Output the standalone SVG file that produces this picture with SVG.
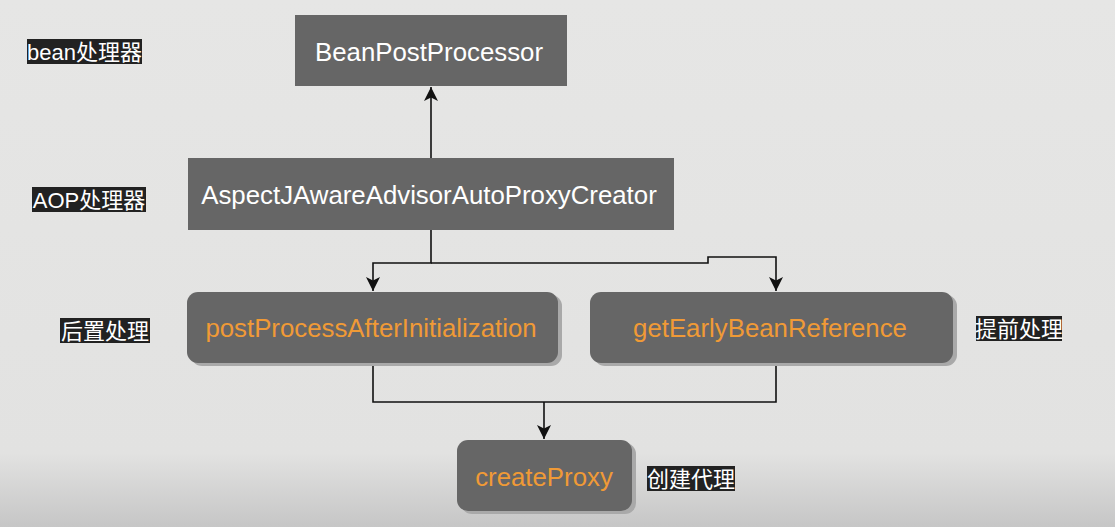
<svg xmlns="http://www.w3.org/2000/svg" width="1115" height="527" viewBox="0 0 1115 527">
<defs>
<linearGradient id="bg" x1="0" y1="0" x2="0" y2="1">
<stop offset="0" stop-color="#e6e6e5"/>
<stop offset="0.86" stop-color="#e2e2e1"/>
<stop offset="1" stop-color="#c6c6c6"/>
</linearGradient>
<marker id="arr" viewBox="0 0 12 12" refX="12" refY="6" markerWidth="14" markerHeight="14" orient="auto" markerUnits="userSpaceOnUse">
<path d="M0,0 L12,6 L0,12 L3,6 Z" fill="#111"/>
</marker>
</defs>
<style>
.box{fill:#666666}
.shadow{fill:#a9a9a9}
.t{font-family:"Liberation Sans",Arial,sans-serif;font-size:25.8px;fill:#ffffff;text-anchor:middle;dominant-baseline:central}
.o{font-family:"Liberation Sans",Arial,sans-serif;font-size:25.8px;fill:#f09a36;text-anchor:middle;dominant-baseline:central}
.lb{fill:#222222}
.l{font-family:"Liberation Sans","Noto Sans CJK SC",sans-serif;font-size:22px;fill:#ffffff;text-anchor:middle;dominant-baseline:central}
.c{fill:none;stroke:#111;stroke-width:1.6}
</style>
<rect x="0" y="0" width="1115" height="527" fill="url(#bg)"/>

<g id="label-bean">
<rect class="lb" x="27" y="39" width="115" height="25"/>
<text class="l" x="84.5" y="52">bean处理器</text>
</g>
<g id="label-aop">
<rect class="lb" x="32" y="187" width="114" height="25"/>
<text class="l" x="89" y="200">AOP处理器</text>
</g>
<g id="label-post">
<rect class="lb" x="60" y="318" width="90" height="25"/>
<text class="l" x="105" y="331">后置处理</text>
</g>
<g id="label-early">
<rect class="lb" x="976" y="316" width="86" height="25"/>
<text class="l" x="1019" y="329">提前处理</text>
</g>
<g id="label-create">
<rect class="lb" x="647" y="466" width="88" height="25"/>
<text class="l" x="691" y="479">创建代理</text>
</g>

<g id="connectors">
<path class="c" d="M431,158 V87" marker-end="url(#arr)"/>
<path class="c" d="M431,230 V263 H373 V291" marker-end="url(#arr)"/>
<path class="c" d="M431,263 H708 V257 H776 V291" marker-end="url(#arr)"/>
<path class="c" d="M373,363 V402 H776 V363"/>
<path class="c" d="M544,402 V439" marker-end="url(#arr)"/>
</g>

<g id="node-beanpostprocessor">
<rect class="box" x="295" y="15" width="272" height="71"/>
<text class="t" x="429" y="52" font-size="26.3">BeanPostProcessor</text>
</g>
<g id="node-aspectj">
<rect class="box" x="188" y="158" width="486" height="72"/>
<text class="t" x="429" y="195">AspectJAwareAdvisorAutoProxyCreator</text>
</g>
<g id="node-postprocess">
<rect class="shadow" x="191" y="295" width="371" height="71" rx="11"/>
<rect class="box" x="187" y="292" width="371" height="71" rx="11"/>
<text class="o" x="371" y="328">postProcessAfterInitialization</text>
</g>
<g id="node-getearly">
<rect class="shadow" x="594" y="295" width="363" height="71" rx="11"/>
<rect class="box" x="590" y="292" width="363" height="71" rx="11"/>
<text class="o" x="770" y="328">getEarlyBeanReference</text>
</g>
<g id="node-createproxy">
<rect class="shadow" x="461" y="443" width="175" height="71" rx="11"/>
<rect class="box" x="457" y="440" width="175" height="71" rx="11"/>
<text class="o" x="544" y="477">createProxy</text>
</g>
</svg>
